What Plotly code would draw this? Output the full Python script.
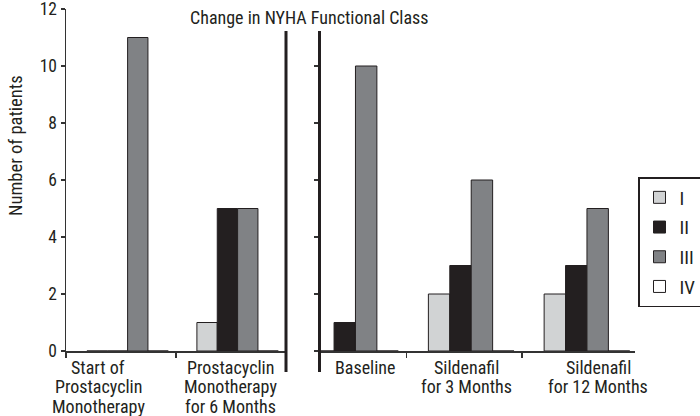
import plotly.graph_objects as go

# ---------------- data ----------------
left_categories = ["Start of Prostacyclin Monotherapy", "Prostacyclin Monotherapy for 6 Months"]
right_categories = ["Baseline", "Sildenafil for 3 Months", "Sildenafil for 12 Months"]
left_label_lines = [["Start of", "Prostacyclin", "Monotherapy"],
                    ["Prostacyclin", "Monotherapy", "for 6 Months"]]
right_label_lines = [["Baseline"], ["Sildenafil", "for 3 Months"], ["Sildenafil", "for 12 Months"]]
class_names = ["I", "II", "III", "IV"]

left_I = [0, 1]
left_II = [0, 5]
left_III = [11, 5]
left_IV = [0, 0]

right_I = [0, 2, 2]
right_II = [1, 3, 3]
right_III = [10, 6, 5]
right_IV = [0, 0, 0]

y_ticks = [0, 2, 4, 6, 8, 10, 12]

# ---------------- style ----------------
FONT = "Liberation Sans Narrow, Roboto Condensed, Arial Narrow, DejaVu Sans Condensed, sans-serif"
TXT = "#231f20"
colors = ["#d1d3d4", "#231f20", "#808285", "#ffffff"]
edge = "#231f20"
axis_col = "#333333"
bar_w = 0.185
offsets = [-0.31, -0.125, 0.06, 0.245]

L, R, T, B = 66, 65, 9, 65
W, H = 700, 416
PW, PH = W - L - R, H - T - B


def px(x):
    return (x - L) / PW


def py(y):
    return (H - B - y) / PH


fig = go.Figure()
left_vals = [left_I, left_II, left_III, left_IV]
right_vals = [right_I, right_II, right_III, right_IV]
for k, name in enumerate(class_names):
    fig.add_trace(go.Bar(
        x=left_categories, y=left_vals[k], name=name, legendgroup=name,
        width=bar_w, offset=offsets[k],
        marker=dict(color=colors[k], line=dict(color=edge, width=1)),
        xaxis="x", yaxis="y", showlegend=True, hoverinfo="skip"))
for k, name in enumerate(class_names):
    fig.add_trace(go.Bar(
        x=right_categories, y=right_vals[k], name=name, legendgroup=name,
        width=bar_w, offset=offsets[k],
        marker=dict(color=colors[k], line=dict(color=edge, width=1)),
        xaxis="x2", yaxis="y2", showlegend=False, hoverinfo="skip"))

annotations = []
line_y = [-16, -35.5, -55]
left_shift = [-23, -1]
right_shift = [17, 2, 18]
LBL = 18
for cat, lines, sh in zip(left_categories, left_label_lines, left_shift):
    for i, t in enumerate(lines):
        annotations.append(dict(x=cat, xref="x", y=0, yref="paper", yshift=line_y[i],
                                xshift=sh, text=t, showarrow=False, yanchor="middle",
                                xanchor="center", font=dict(family=FONT, size=LBL, color=TXT)))
for cat, lines, sh in zip(right_categories, right_label_lines, right_shift):
    for i, t in enumerate(lines):
        annotations.append(dict(x=cat, xref="x2", y=0, yref="paper", yshift=line_y[i],
                                xshift=sh, text=t, showarrow=False, yanchor="middle",
                                xanchor="center", font=dict(family=FONT, size=LBL, color=TXT)))

annotations.append(dict(x=px(309), y=py(17), xref="paper", yref="paper",
                        text="Change in NYHA Functional Class", showarrow=False,
                        xanchor="center", yanchor="middle",
                        font=dict(family=FONT, size=18, color=TXT)))
annotations.append(dict(x=px(16), y=py(146), xref="paper", yref="paper",
                        text="Number of patients", showarrow=False, textangle=-90,
                        xanchor="center", yanchor="middle",
                        font=dict(family=FONT, size=18.5, color=TXT)))

shapes = []
for xp in (286, 319.5):
    shapes.append(dict(type="line", xref="paper", yref="paper",
                       x0=px(xp), x1=px(xp), y0=py(31), y1=py(372),
                       line=dict(color=TXT, width=3)))

fig.update_layout(
    width=W, height=H,
    margin=dict(l=L, r=R, t=T, b=B, autoexpand=False),
    paper_bgcolor="white", plot_bgcolor="white",
    barmode="overlay",
    hovermode=False,
    font=dict(family=FONT, size=17, color=TXT),
    xaxis=dict(domain=[0, px(286)], range=[-0.5, 1.5], type="category",
               categoryorder="array", categoryarray=left_categories,
               showticklabels=False, tickson="boundaries", ticks="outside",
               ticklen=5, tickcolor=axis_col, tickwidth=1.5,
               showline=True, linecolor=axis_col, linewidth=1.5,
               showgrid=False, zeroline=False, anchor="y", automargin=False),
    yaxis=dict(domain=[0, 1], range=[0, 12], tickvals=y_ticks,
               ticks="outside", ticklen=4, tickcolor=axis_col, tickwidth=1.5,
               showline=True, linecolor=axis_col, linewidth=1.5,
               showgrid=False, zeroline=False, anchor="x", automargin=False,
               ticklabeloverflow="allow",
               tickfont=dict(family=FONT, size=17.5, color=TXT)),
    xaxis2=dict(domain=[px(319.5), 1], range=[-0.2507, 2.475], type="category",
                categoryorder="array", categoryarray=right_categories,
                showticklabels=False, tickson="boundaries", ticks="outside",
                ticklen=5, tickcolor=axis_col, tickwidth=1.5,
                showline=True, linecolor=axis_col, linewidth=1.5,
                showgrid=False, zeroline=False, anchor="y2", automargin=False),
    yaxis2=dict(domain=[0, 1], range=[0, 12], tickvals=y_ticks[:-1],
                ticks="outside", ticklen=5, tickcolor=axis_col, tickwidth=1.5,
                showline=False, showticklabels=False,
                showgrid=False, zeroline=False, anchor="x2", automargin=False),
    legend=dict(x=px(638), y=py(177), xanchor="left", yanchor="top",
                bordercolor=TXT, borderwidth=1.5, bgcolor="white",
                tracegroupgap=2, itemwidth=30,
                font=dict(family=FONT, size=19, color=TXT)),
    annotations=annotations,
    shapes=shapes,
)

fig.write_html("out.html", config={"displayModeBar": False, "staticPlot": True},
               post_script="document.body.style.margin='0';document.body.style.padding='0';")
